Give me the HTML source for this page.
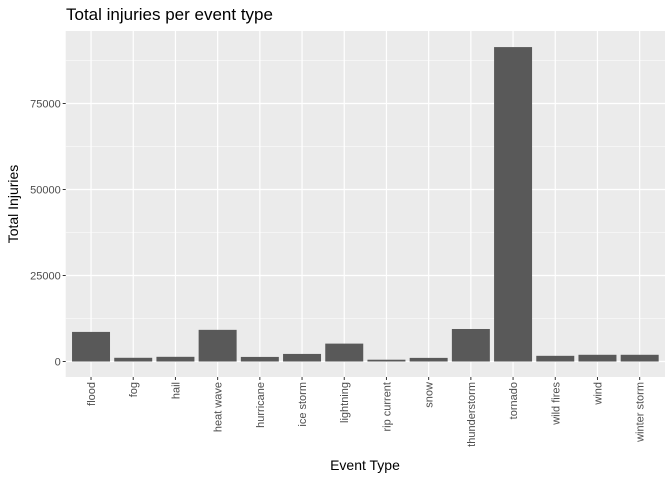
<!DOCTYPE html>
<html><head><meta charset="utf-8"><style>
body{margin:0;background:#fff;font-family:"Liberation Sans",sans-serif;}
</style></head><body>
<svg id="chart" width="672" height="480" xmlns="http://www.w3.org/2000/svg" font-family="Liberation Sans, sans-serif">
<text x="66" y="20" font-size="17" fill="#000">Total injuries per event type</text>
<rect x="65.7" y="31" width="599.3" height="346" fill="#EBEBEB"/>
<g id="grid"></g><g id="bars"></g><g id="axes"></g>
<text x="365" y="470" font-size="14" text-anchor="middle" fill="#000">Event Type</text>
<text transform="translate(18,204) rotate(-90)" font-size="14" text-anchor="middle" fill="#000">Total Injuries</text>
</svg>
<script>
const categories=["flood","fog","hail","heat wave","hurricane","ice storm","lightning","rip current","snow","thunderstorm","tornado","wild fires","wind","winter storm"];
const injuries=[8600,1080,1360,9200,1330,2200,5200,520,1050,9450,91400,1650,1950,1950];
const yTicks=[0,25000,50000,75000];
const yTickLabels=["0","25000","50000","75000"];
const NS="http://www.w3.org/2000/svg";
const L=65.7,R=665,T=31,B=377;
const y0=361.5,pxPer=86/25000;
const y=v=>y0-v*pxPer;
const step=(R-L)/(categories.length-1+1.2);
const x=i=>L+step*(0.6+i);
function mk(tag,attrs,parent){const e=document.createElementNS(NS,tag);for(const k in attrs)e.setAttribute(k,attrs[k]);parent.appendChild(e);return e;}
const grid=document.getElementById('grid'),bars=document.getElementById('bars'),axes=document.getElementById('axes');
for(let i=0;i<yTicks.length;i++){
  const mid=yTicks[i]+12500;
  if(y(mid)>T){const m=mk('line',{x1:L,x2:R,y1:y(mid),y2:y(mid),stroke:'#fff','stroke-width':0.6},grid);
  
  }
  const g=mk('line',{x1:L,x2:R,y1:y(yTicks[i]),y2:y(yTicks[i]),stroke:'#fff','stroke-width':1.2},grid);
  
  
  const t=mk('line',{x1:L-3,x2:L,y1:y(yTicks[i]),y2:y(yTicks[i]),stroke:'#333','stroke-width':1},axes);
  
  
  const lb=mk('text',{x:L-5,y:y(yTicks[i])+4,'font-size':11,'text-anchor':'end',fill:'#4D4D4D'},axes);
  lb.textContent=yTickLabels[i];
  
  
}
const bw=step*0.9;
categories.forEach((c,i)=>{
  const g=mk('line',{x1:x(i),x2:x(i),y1:T,y2:B,stroke:'#fff','stroke-width':1.2},grid);
  
  
  const b=mk('rect',{x:x(i)-bw/2,y:y(injuries[i]),width:bw,height:y0-y(injuries[i]),fill:'#595959'},bars);
  
  
  const t=mk('line',{x1:x(i),x2:x(i),y1:B,y2:B+3,stroke:'#333','stroke-width':1},axes);
  
  
  const lb=mk('text',{transform:`translate(${x(i)+4},${B+5}) rotate(-90)`,'font-size':11,'text-anchor':'end',fill:'#4D4D4D'},axes);
  lb.textContent=c;
  
  
});
</script>
</body></html>
